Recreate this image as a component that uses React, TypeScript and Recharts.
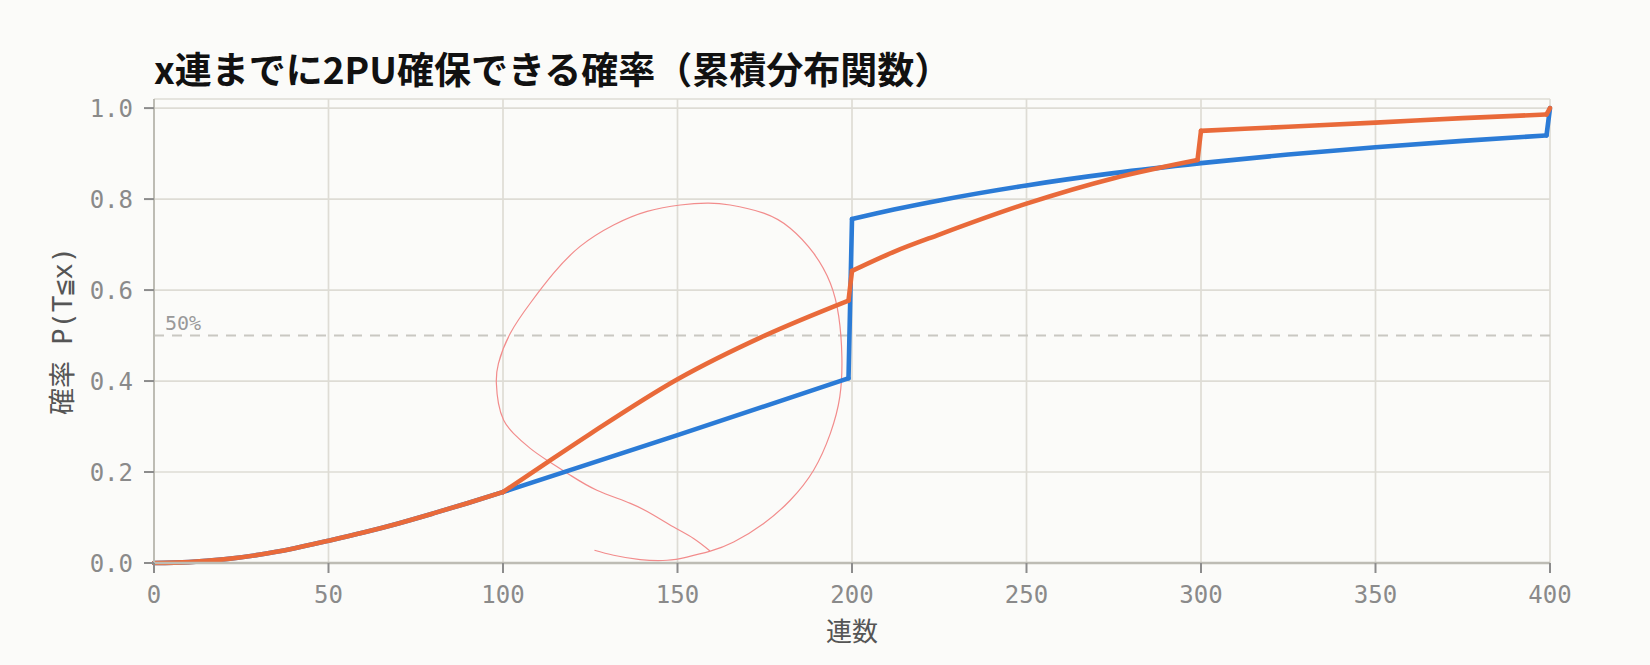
import { CartesianGrid, Line, LineChart, ReferenceLine, XAxis, YAxis } from "recharts";

// x-axis / y-axis ticks
const xTicks = [0, 50, 100, 150, 200, 250, 300, 350, 400];
const yTicks = [0, 0.2, 0.4, 0.6, 0.8, 1.0];

// blue series
const blueX = [0, 10, 20, 30, 40, 50, 60, 70, 80, 90, 100, 150, 199, 200, 212, 225, 250, 275, 300, 325, 350, 375, 399, 400];
const blueP = [0, 0.002, 0.008, 0.018, 0.032, 0.049, 0.067, 0.087, 0.109, 0.132, 0.156, 0.281, 0.406, 0.756, 0.777, 0.797, 0.83, 0.857, 0.879, 0.898, 0.914, 0.928, 0.94, 1.0];
const blueBreaks = [100, 199, 200, 399];

// orange series
const orangeX = [0, 10, 20, 30, 40, 50, 60, 70, 80, 90, 100, 113, 125, 150, 175, 199, 200, 212, 225, 250, 275, 299, 300, 325, 350, 375, 399, 400];
const orangeP = [0, 0.002, 0.008, 0.018, 0.032, 0.049, 0.067, 0.087, 0.109, 0.132, 0.156, 0.223, 0.284, 0.404, 0.5, 0.577, 0.642, 0.684, 0.722, 0.79, 0.846, 0.886, 0.95, 0.959, 0.968, 0.978, 0.986, 1.0];
const orangeBreaks = [100, 199, 200, 299, 300, 399];

// hand-drawn red loop (pen annotation), in chart units
const scribbleX = [126.2, 131.7, 139.3, 147.0, 152.7, 159.4, 166.1, 174.7, 182.3, 189.0, 193.8, 196.5, 197.1, 196.2, 193.8, 189.0, 182.3, 174.7, 165.1, 158.5, 150.8, 141.3, 131.7, 122.1, 114.5, 107.8, 102.1, 98.7, 98.1, 98.7, 100.2, 103.0, 107.8, 112.6, 119.3, 126.9, 136.5, 143.2, 148.9, 154.6, 159.4];
const scribbleP = [0.028, 0.017, 0.0075, 0.006, 0.013, 0.026, 0.046, 0.087, 0.138, 0.204, 0.285, 0.365, 0.453, 0.542, 0.615, 0.681, 0.736, 0.769, 0.787, 0.791, 0.787, 0.773, 0.743, 0.696, 0.637, 0.571, 0.505, 0.439, 0.395, 0.351, 0.314, 0.285, 0.252, 0.226, 0.193, 0.16, 0.131, 0.105, 0.079, 0.054, 0.026];

type Pt = { x: number; p: number };
const zip = (xs: number[], ps: number[]): Pt[] => xs.map((x, i) => ({ x, p: ps[i] }));

// split a step-like CDF into smooth pieces so jumps/kinks stay sharp
function pieces(xs: number[], ps: number[], breaks: number[]): Pt[][] {
  const pts = zip(xs, ps);
  const out: Pt[][] = [];
  let cur: Pt[] = [];
  pts.forEach((pt) => {
    cur.push(pt);
    if (breaks.includes(pt.x)) {
      out.push(cur);
      cur = [pt];
    }
  });
  if (cur.length > 1) out.push(cur);
  return out;
}

const BLUE = "#2b7bd6";
const ORANGE = "#e96a3a";
const MONO = "'DejaVu Sans Mono', 'Noto Sans CJK JP', monospace";

function seriesLines(name: string, color: string, segs: Pt[][]) {
  return segs.map((seg, i) => (
    <Line
      key={`${name}-${i}`}
      name={`${name}-${i}`}
      data={seg}
      dataKey="p"
      type="monotone"
      stroke={color}
      strokeWidth={4.6}
      strokeLinecap="round"
      dot={false}
      activeDot={false}
      isAnimationActive={false}
    />
  ));
}

export default function App() {
  return (
    <div style={{ position: "fixed", left: 0, top: 0, width: 1650, height: 665, background: "#fbfbf9" }}>
      <div
        style={{
          position: "absolute",
          left: 154,
          top: 50,
          fontFamily: "'Noto Sans CJK JP', sans-serif",
          fontWeight: 700,
          fontSize: 37,
          lineHeight: "37px",
          color: "#111",
          whiteSpace: "nowrap",
        }}
      >
        x連までに2PU確保できる確率（累積分布関数）
      </div>
      <LineChart width={1650} height={665} margin={{ top: 99, right: 100, bottom: 42, left: 54 }}>
        <CartesianGrid stroke="#dedcd5" strokeWidth={1.7} />
        <XAxis
          type="number"
          dataKey="x"
          domain={[0, 400]}
          ticks={xTicks}
          height={60}
          tickSize={10}
          tickMargin={13}
          axisLine={{ stroke: "#bdbcb4", strokeWidth: 2.5 }}
          tickLine={{ stroke: "#8c8c8c", strokeWidth: 2 }}
          tick={{ fill: "#8a8a8a", fontSize: 24, fontFamily: MONO }}
          label={{ value: "連数", position: "bottom", offset: 0, fill: "#555", fontSize: 26, fontFamily: MONO }}
        />
        <YAxis
          type="number"
          domain={[0, 1.02]}
          ticks={yTicks}
          width={100}
          tickSize={10}
          tickMargin={11}
          tickFormatter={(v: number) => v.toFixed(1)}
          axisLine={{ stroke: "#bdbcb4", strokeWidth: 2 }}
          tickLine={{ stroke: "#8c8c8c", strokeWidth: 2 }}
          tick={{ fill: "#8a8a8a", fontSize: 24, fontFamily: MONO }}
          label={{
            value: "確率 P(T≦x)",
            angle: -90,
            position: "insideLeft",
            textAnchor: "middle",
            offset: 8,
            fill: "#555",
            fontSize: 27,
            fontFamily: MONO,
          }}
        />
        <ReferenceLine
          y={0.5}
          stroke="#c9c8c2"
          strokeWidth={2}
          strokeDasharray="10 8"
          label={(props: any) => (
            <text x={props.viewBox.x + 11} y={props.viewBox.y - 6} fill="#999" fontSize={20} fontFamily={MONO}>
              50%
            </text>
          )}
        />
        <Line
          data={zip(scribbleX, scribbleP)}
          dataKey="p"
          name="scribble"
          type="natural"
          stroke="#f28c8c"
          strokeWidth={1.2}
          dot={false}
          activeDot={false}
          isAnimationActive={false}
        />
        {seriesLines("blue", BLUE, pieces(blueX, blueP, blueBreaks))}
        {seriesLines("orange", ORANGE, pieces(orangeX, orangeP, orangeBreaks))}
      </LineChart>
    </div>
  );
}
